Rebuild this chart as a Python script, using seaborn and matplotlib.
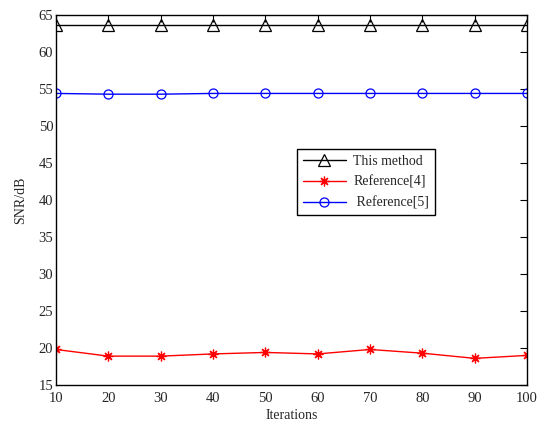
import matplotlib
matplotlib.use("Agg")
import matplotlib.pyplot as plt
import seaborn as sns
import pandas as pd

iterations = [10, 20, 30, 40, 50, 60, 70, 80, 90, 100]
this_method = [63.7, 63.7, 63.7, 63.7, 63.7, 63.7, 63.7, 63.7, 63.7, 63.7]
reference4 = [19.8, 18.9, 18.9, 19.2, 19.4, 19.2, 19.8, 19.3, 18.6, 19.0]
reference5 = [54.4, 54.3, 54.3, 54.4, 54.4, 54.4, 54.4, 54.4, 54.4, 54.4]
labels = ["This method", "Reference[4]", " Reference[5]"]

sns.set_style("white")
plt.rcParams['font.family'] = ['Liberation Serif', 'DejaVu Serif']

fig = plt.figure(figsize=(5.46, 4.23), dpi=100)
ax = fig.add_axes([56/546, 38/423, 471/546, 370/423])

styles = [
    dict(color="black", marker="^", ms=8, mfc="none", mec="black", mew=0.9),
    dict(color="red", marker=(8, 2, 0), ms=7, mec="red", mew=0.9),
    dict(color="blue", marker="o", ms=6.5, mfc="none", mec="blue", mew=0.9),
]
for vals, lab, st in zip([this_method, reference4, reference5], labels, styles):
    df = pd.DataFrame({"Iterations": iterations, "SNR": vals})
    sns.lineplot(data=df, x="Iterations", y="SNR", ax=ax, label=lab,
                 linewidth=1.0, **st)

ax.set_xlim(10, 100)
ax.set_ylim(15, 65)
ax.set_xticks(iterations)
ax.set_yticks(range(15, 66, 5))
ax.set_xlabel("Iterations", fontsize=10, labelpad=3)
ax.set_ylabel("SNR/dB", fontsize=10, labelpad=8)
ax.tick_params(axis="both", which="both", direction="in", length=5, width=0.8,
               top=True, right=True, labelsize=10.5, color="black")
ax.tick_params(axis="x", pad=5)
ax.tick_params(axis="y", pad=2)
for s in ax.spines.values():
    s.set_visible(True)
    s.set_color("black")
    s.set_linewidth(1.0)

leg = ax.legend(loc="upper left", bbox_to_anchor=((297-56)/471, (385-149)/370),
                frameon=True, fancybox=False, fontsize=10, handlelength=3.1,
                borderpad=0.4, labelspacing=0.55, handletextpad=0.55,
                borderaxespad=0)
leg.get_frame().set_edgecolor("black")
leg.get_frame().set_linewidth(1.0)
leg.get_frame().set_alpha(1)

fig.savefig("out.png", dpi=100)
